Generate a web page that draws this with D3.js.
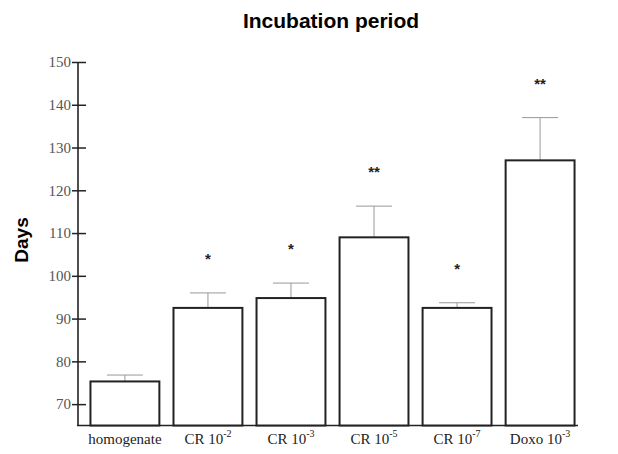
<!DOCTYPE html>
<html>
<head>
<meta charset="utf-8">
<script src="https://cdn.jsdelivr.net/npm/d3@7"></script>
<style>
  body { margin: 0; background: #fff; }
</style>
</head>
<body>
<script>
// incubation period bar chart

var w = 618;
var h = 454;

// data
var groups = ["homogenate", "CR 10-2", "CR 10-3", "CR 10-5", "CR 10-7", "Doxo 10-3"];
var labelBase = ["homogenate", "CR 10", "CR 10", "CR 10", "CR 10", "Doxo 10"];
var labelSup = ["", "-2", "-3", "-5", "-7", "-3"];
var means = [75.3, 92.5, 94.8, 109, 92.5, 127];
var errTop = [76.8, 96, 98.3, 116.3, 93.7, 137];
var stars = ["", "*", "*", "**", "*", "**"];
var yTicks = [70, 80, 90, 100, 110, 120, 130, 140, 150];

var svg = d3.select("body")
    .append("svg")
    .attr("width", w)
    .attr("height", h);

var x = d3.scaleBand()
    .domain(groups)
    .range([78, 587])
    .paddingInner(0.17)
    .paddingOuter(0.15);

var y = d3.scaleLinear()
    .domain([65, 150])
    .range([425.5, 62]);

// title
svg.append("text")
    .attr("x", 331)
    .attr("y", 28)
    .attr("text-anchor", "middle")
    .style("font-family", "Liberation Sans, Arial, sans-serif")
    .style("font-weight", "bold")
    .style("font-size", "21px")
    .text("Incubation period");

// y label
svg.append("text")
    .attr("transform", "translate(28," + 240 + ") rotate(-90)")
    .attr("text-anchor", "middle")
    .style("font-family", "Liberation Sans, Arial, sans-serif")
    .style("font-weight", "bold")
    .style("font-size", "19px")
    .text("Days");

// y axis
var yAxis = svg.append("g")
    .attr("transform", "translate(78,0)")
    .call(d3.axisLeft(y).tickValues(yTicks).tickSize(6).tickPadding(8));

yAxis.select(".domain").remove();
yAxis.selectAll(".tick line")
    .attr("x1", 8)
    .attr("x2", -6)
    .attr("stroke", "#222")
    .attr("stroke-width", 1.5);
yAxis.selectAll(".tick text")
    .attr("x", -7)
    .style("font-family", "Liberation Serif, Times New Roman, serif")
    .style("font-size", "15px")
    .attr("fill", "#555");

svg.append("line")
    .attr("x1", 78).attr("x2", 78)
    .attr("y1", y(150)).attr("y2", y(65))
    .attr("stroke", "#222")
    .attr("stroke-width", 1.6);

svg.append("line")
    .attr("x1", 77).attr("x2", 578)
    .attr("y1", y(65)).attr("y2", y(65))
    .attr("stroke", "#222")
    .attr("stroke-width", 1.6);

// error bars
var errs = svg.selectAll(".err")
    .data(groups)
    .enter()
    .append("g")
    .attr("class", "err");

errs.append("line")
    .attr("x1", function(d) { return x(d) + x.bandwidth() / 2; })
    .attr("x2", function(d) { return x(d) + x.bandwidth() / 2; })
    .attr("y1", function(d, i) { return y(means[i]); })
    .attr("y2", function(d, i) { return y(errTop[i]); })
    .attr("stroke", "#999")
    .attr("stroke-width", 1);

errs.append("line")
    .attr("x1", function(d) { return x(d) + x.bandwidth() / 2 - 18; })
    .attr("x2", function(d) { return x(d) + x.bandwidth() / 2 + 18; })
    .attr("y1", function(d, i) { return y(errTop[i]); })
    .attr("y2", function(d, i) { return y(errTop[i]); })
    .attr("stroke", "#999")
    .attr("stroke-width", 1);

// bars
svg.selectAll(".bar")
    .data(groups)
    .enter()
    .append("rect")
    .attr("class", "bar")
    .attr("x", function(d) { return x(d); })
    .attr("y", function(d, i) { return y(means[i]); })
    .attr("width", x.bandwidth())
    .attr("height", function(d, i) { return y(65) - y(means[i]); })
    .attr("fill", "#fff")
    .attr("stroke", "#222")
    .attr("stroke-width", 2);

// significance stars
svg.selectAll(".star")
    .data(groups)
    .enter()
    .append("text")
    .attr("class", "star")
    .attr("x", function(d) { return x(d) + x.bandwidth() / 2; })
    .attr("y", function(d, i) { return y(errTop[i]) - 29; })
    .attr("text-anchor", "middle")
    .style("font-family", "Liberation Sans, Arial, sans-serif")
    .style("font-weight", "bold")
    .style("font-size", "15px")
    .attr("fill", "#222")
    .text(function(d, i) { return stars[i]; });

// category labels
var labels = svg.selectAll(".xlab")
    .data(groups)
    .enter()
    .append("text")
    .attr("class", "xlab")
    .attr("x", function(d) { return x(d) + x.bandwidth() / 2; })
    .attr("y", 444)
    .attr("text-anchor", "middle")
    .style("font-family", "Liberation Serif, Times New Roman, serif")
    .style("font-size", "15px")
    .attr("fill", "#222");

labels.append("tspan")
    .text(function(d, i) { return labelBase[i]; });

labels.append("tspan")
    .attr("dy", -7)
    .style("font-size", "10px")
    .text(function(d, i) { return labelSup[i]; });
</script>
</body>
</html>
